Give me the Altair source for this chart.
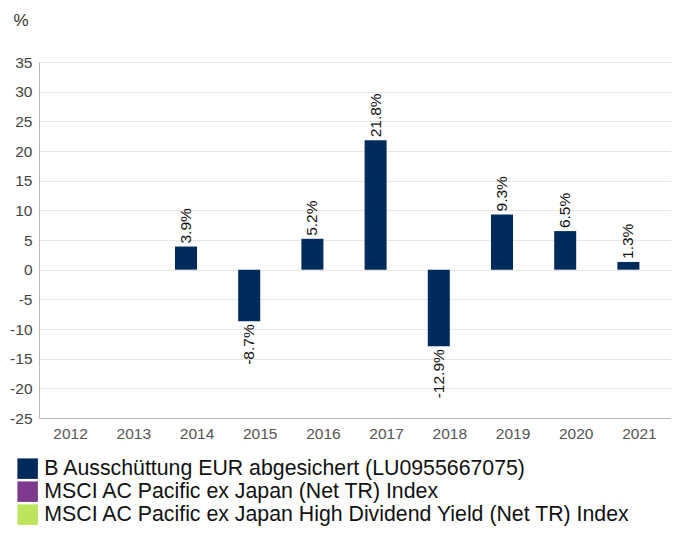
import altair as alt
import pandas as pd

years = ["2012", "2013", "2014", "2015", "2016", "2017", "2018", "2019", "2020", "2021"]
fund_values = [None, None, 3.9, -8.7, 5.2, 21.8, -12.9, 9.3, 6.5, 1.3]
series_names = [
    "B Ausschüttung EUR abgesichert (LU0955667075)",
    "MSCI AC Pacific ex Japan (Net TR) Index",
    "MSCI AC Pacific ex Japan High Dividend Yield (Net TR) Index",
]
series_colors = ["#002A5C", "#7B3A8D", "#BCE45C"]
y_ticks = [-25, -20, -15, -10, -5, 0, 5, 10, 15, 20, 25, 30, 35]

df = pd.DataFrame({"year": years, "value": fund_values, "series": series_names[0]})

FONT = "Liberation Sans"

x_enc = alt.X(
    "year:N",
    scale=alt.Scale(domain=years, paddingInner=0, paddingOuter=0),
    axis=alt.Axis(
        title=None, labelAngle=0, ticks=False, grid=False,
        domainColor="#b8b8b8", labelColor="#555555", labelFontSize=15.5,
        labelFont=FONT, labelPadding=8,
    ),
)
y_enc = alt.Y(
    "value:Q",
    scale=alt.Scale(domain=[-25, 35], nice=False),
    axis=alt.Axis(
        values=y_ticks, title="%", titleAngle=0, titleX=-26, titleY=-42,
        titleAlign="left", titleBaseline="middle", titleFontSize=17,
        titleFontWeight="normal", titleColor="#333333", titleFont=FONT,
        grid=True, gridColor="#e6e6e6", ticks=False, domainColor="#b8b8b8",
        labelColor="#444444", labelFontSize=15.5, labelFont=FONT, labelPadding=7,
        labelExpr="'' + datum.value",
    ),
)

base = alt.Chart(df)

bars = base.mark_bar(size=22, xOffset=-11).encode(
    x=x_enc,
    y=y_enc,
    color=alt.Color(
        "series:N",
        scale=alt.Scale(domain=series_names, range=series_colors),
        legend=alt.Legend(
            title=None, orient="none", legendX=-22, legendY=396,
            direction="vertical", symbolType="square", symbolSize=420,
            symbolStrokeWidth=0, symbolOpacity=1, labelFontSize=21.3,
            labelColor="#111111", labelFont=FONT, rowPadding=1,
            labelOffset=6, labelLimit=700,
        ),
    ),
)

label_expr = "(datum.value < 0 ? '-' : '') + format(abs(datum.value), '.1f') + '%'"

pos_labels = base.transform_filter("datum.value >= 0").transform_calculate(
    label=label_expr
).mark_text(
    angle=270, align="left", baseline="middle", dx=3, xOffset=-11,
    fontSize=15.5, font=FONT, color="#111111",
).encode(x=x_enc, y=y_enc, text="label:N")

neg_labels = base.transform_filter("datum.value < 0").transform_calculate(
    label=label_expr
).mark_text(
    angle=270, align="right", baseline="middle", dx=-3, xOffset=-11,
    fontSize=15.5, font=FONT, color="#111111",
).encode(x=x_enc, y=y_enc, text="label:N")

chart = alt.layer(bars, pos_labels, neg_labels).properties(
    width=632,
    height=356,
    padding={"left": 31, "top": 54, "right": 0, "bottom": 110},
    autosize=alt.AutoSizeParams(type="none"),
).configure_view(strokeWidth=0).configure(background="white")

chart.save("out.html", embed_options={"renderer": "svg", "actions": False})
